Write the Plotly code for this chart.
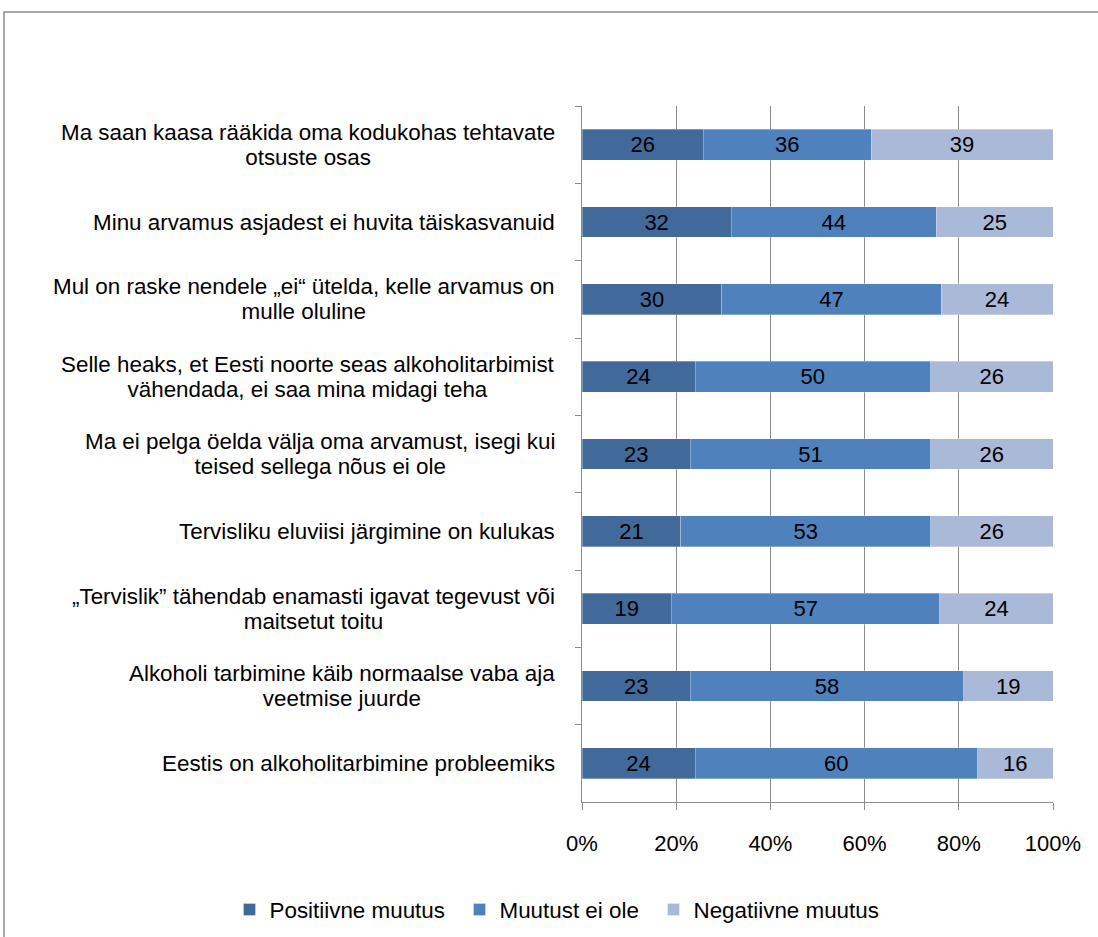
import plotly.graph_objects as go

categories = [
    "Ma saan kaasa rääkida oma kodukohas tehtavate<br>otsuste osas",
    "Minu arvamus asjadest ei huvita täiskasvanuid",
    "Mul on raske nendele „ei“ ütelda, kelle arvamus on<br>mulle oluline",
    "Selle heaks, et Eesti noorte seas alkoholitarbimist<br>vähendada, ei saa mina midagi teha",
    "Ma ei pelga öelda välja oma arvamust, isegi kui<br>teised sellega nõus ei ole",
    "Tervisliku eluviisi järgimine on kulukas",
    "„Tervislik” tähendab enamasti igavat tegevust või<br>maitsetut toitu",
    "Alkoholi tarbimine käib normaalse vaba aja<br>veetmise juurde",
    "Eestis on alkoholitarbimine probleemiks",
]
positiivne = [26, 32, 30, 24, 23, 21, 19, 23, 24]
muutust_ei_ole = [36, 44, 47, 50, 51, 53, 57, 58, 60]
negatiivne = [39, 25, 24, 26, 26, 26, 24, 19, 16]
series_names = ["Positiivne muutus", "Muutust ei ole", "Negatiivne muutus"]
colors = ["#41699A", "#4F81BD", "#AAB9D7"]
x_tickvals = [0, 20, 40, 60, 80, 100]
x_ticktext = ["0%", "20%", "40%", "60%", "80%", "100%"]

FONT = "Liberation Sans, Arial, sans-serif"
FS = 22
FS_LABEL = 22.4
LINE_FS = 19.2  # gives ~25px line spacing

W, H = 1098, 937
L, R, T, B = 582, 45, 106, 135
PW, PH = W - L - R, H - T - B

legend_widths = [185, 149, 200]

fig = go.Figure()
for name, vals, col, lw in zip(series_names, [positiivne, muutust_ei_ole, negatiivne],
                               colors, legend_widths):
    fig.add_trace(go.Bar(
        y=categories, x=vals, name=name, orientation="h",
        marker=dict(color=col, line=dict(width=0.6, color="rgba(255,255,255,0.5)")),
        text=[str(v) for v in vals], textposition="inside", insidetextanchor="middle",
        textangle=0, constraintext="none",
        textfont=dict(color="black", size=FS, family=FONT),
        width=0.4, legendwidth=lw,
    ))

for c in categories:
    styled = "<br>".join(
        f"<span style='font-size:{FS_LABEL}px'>{line}</span>" for line in c.split("<br>")
    )
    fig.add_annotation(
        x=0, xref="paper", y=c, yref="y", text=styled, showarrow=False,
        xanchor="right", xshift=-25, align="center",
        font=dict(size=LINE_FS, family=FONT, color="black"),
    )

# outer chart frame
fig.add_shape(type="rect", xref="paper", yref="paper",
              x0=(4 - L) / PW, x1=(W + 20 - L) / PW,
              y0=(T + PH - (H + 20)) / PH, y1=(T + PH - 12) / PH,
              line=dict(color="#8c8c8c", width=1.5), layer="below")

fig.update_layout(
    barmode="stack", barnorm="percent",
    width=W, height=H,
    margin=dict(l=L, r=R, t=T, b=B, autoexpand=False),
    paper_bgcolor="white", plot_bgcolor="white",
    font=dict(family=FONT, size=FS, color="black"),
    showlegend=True,
    legend=dict(orientation="h", x=(229.5 - L) / PW, xanchor="left",
                y=(T + PH - 910) / PH, yanchor="middle",
                font=dict(size=22.4, family=FONT), itemwidth=30, traceorder="normal",
                tracegroupgap=0),
    xaxis=dict(range=[0, 100], tickvals=x_tickvals, ticktext=x_ticktext,
               showgrid=True, gridcolor="#8c8c8c", gridwidth=1,
               showline=True, linecolor="#8c8c8c", linewidth=1,
               ticks="outside", ticklen=7, tickcolor="#8c8c8c",
               ticklabelstandoff=15, automargin=False,
               zeroline=False, tickfont=dict(size=FS), fixedrange=True),
    yaxis=dict(categoryorder="array", categoryarray=categories, autorange="reversed",
               showticklabels=False, showline=True, linecolor="#8c8c8c", linewidth=1,
               ticks="outside", ticklen=6, tickcolor="#8c8c8c", tickson="boundaries",
               showgrid=False, zeroline=False, fixedrange=True, automargin=False),
)

fig.write_html("out.html", config={"displayModeBar": False},
               post_script="document.body.style.margin='0';")
